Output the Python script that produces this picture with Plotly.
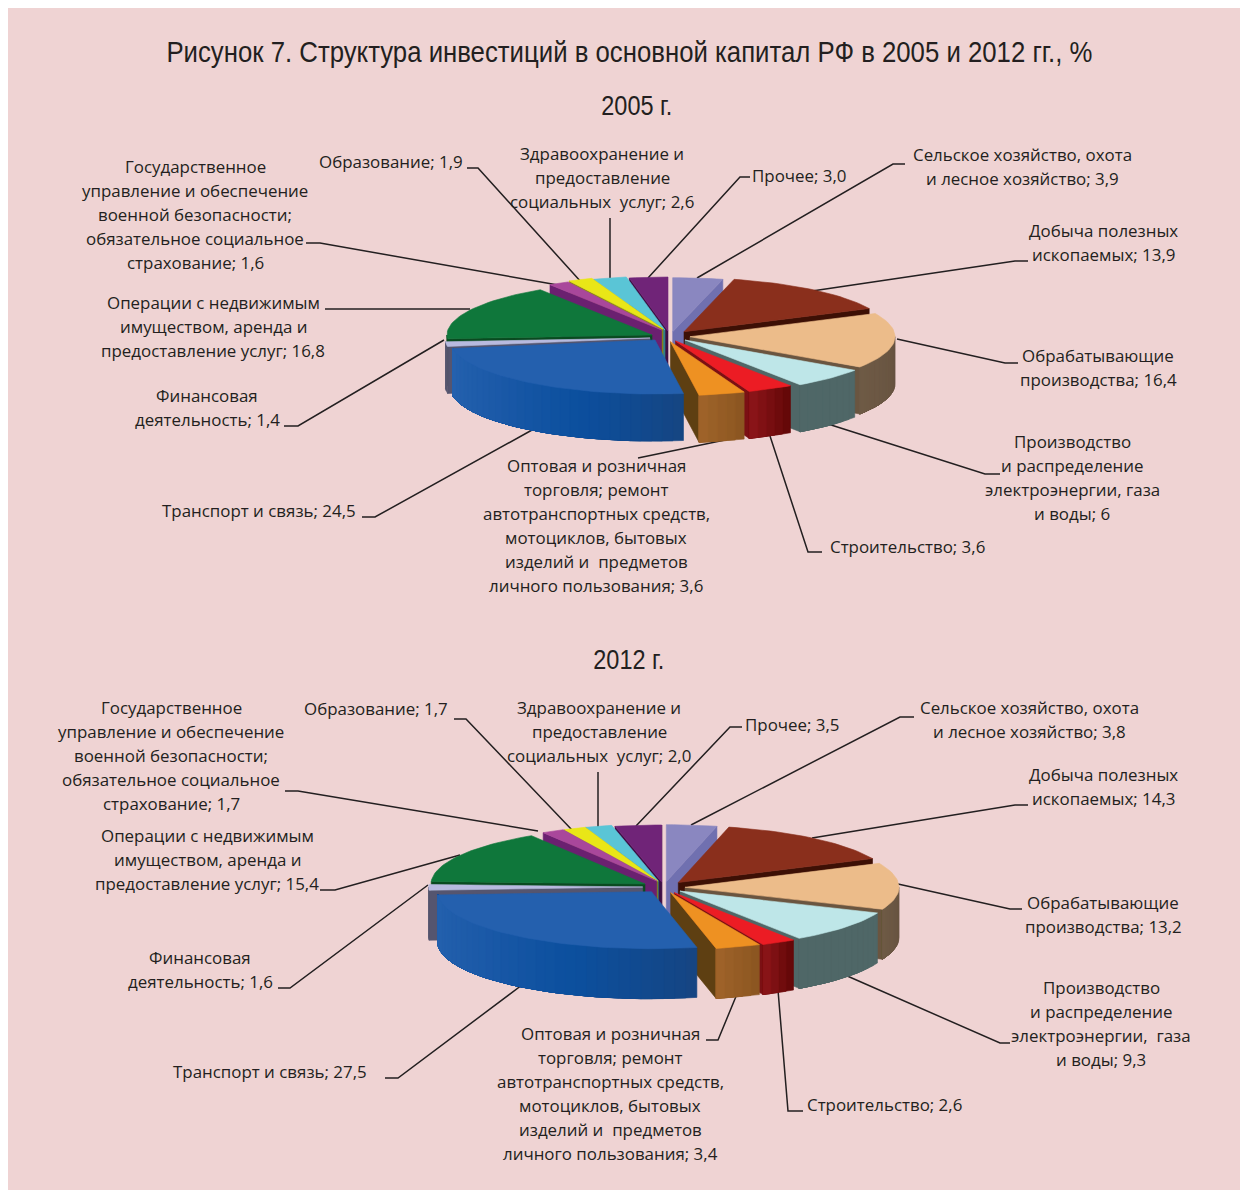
import math
import plotly.graph_objects as go

# ---------- data ----------
categories = ["Сельское хозяйство", "Добыча", "Обрабатывающие", "Производство", "Строительство",
              "Оптовая", "Транспорт", "Финансовая", "Операции", "Госуправление",
              "Образование", "Здравоохранение", "Прочее"]
values_2005 = [3.9, 13.9, 16.4, 6, 3.6, 3.6, 24.5, 1.4, 16.8, 1.6, 1.9, 2.6, 3.0]
values_2012 = [3.8, 14.3, 13.2, 9.3, 2.6, 3.4, 27.5, 1.6, 15.4, 1.7, 1.7, 2.0, 3.5]

title_text = "Рисунок 7. Структура инвестиций в основной капитал РФ в 2005 и 2012 гг., %"

labels_2005 = [
    (1022, 154, ["Сельское хозяйство, охота", "и лесное хозяйство; 3,9"]),
    (1103, 230, ["Добыча полезных", "ископаемых; 13,9"]),
    (1098, 355, ["Обрабатывающие", "производства; 16,4"]),
    (1072, 441, ["Производство", "и распределение", "электроэнергии, газа", "и воды; 6"]),
    (907, 546, ["Строительство; 3,6"]),
    (596, 465, ["Оптовая и розничная", "торговля; ремонт", "автотранспортных средств,", "мотоциклов, бытовых", "изделий и  предметов", "личного пользования; 3,6"]),
    (259, 510, ["Транспорт и связь; 24,5"]),
    (207, 395, ["Финансовая", "деятельность; 1,4"]),
    (213, 302, ["Операции с недвижимым", "имуществом, аренда и", "предоставление услуг; 16,8"]),
    (195, 166, ["Государственное", "управление и обеспечение", "военной безопасности;", "обязательное социальное", "страхование; 1,6"]),
    (391, 161, ["Образование; 1,9"]),
    (602, 153, ["Здравоохранение и", "предоставление", "социальных  услуг; 2,6"]),
    (799, 175, ["Прочее; 3,0"]),
]
labels_2012 = [
    (1029, 707, ["Сельское хозяйство, охота", "и лесное хозяйство; 3,8"]),
    (1103, 774, ["Добыча полезных", "ископаемых; 14,3"]),
    (1103, 902, ["Обрабатывающие", "производства; 13,2"]),
    (1101, 987, ["Производство", "и распределение", "электроэнергии,  газа", "и воды; 9,3"]),
    (884, 1104, ["Строительство; 2,6"]),
    (610, 1033, ["Оптовая и розничная", "торговля; ремонт", "автотранспортных средств,", "мотоциклов, бытовых", "изделий и  предметов", "личного пользования; 3,4"]),
    (270, 1071, ["Транспорт и связь; 27,5"]),
    (200, 957, ["Финансовая", "деятельность; 1,6"]),
    (207, 835, ["Операции с недвижимым", "имуществом, аренда и", "предоставление услуг; 15,4"]),
    (171, 707, ["Государственное", "управление и обеспечение", "военной безопасности;", "обязательное социальное", "страхование; 1,7"]),
    (376, 708, ["Образование; 1,7"]),
    (599, 707, ["Здравоохранение и", "предоставление", "социальных  услуг; 2,0"]),
    (792, 724, ["Прочее; 3,5"]),
]

# ---------- style ----------
PINK = "#EFD3D3"
top_colors = ["#8A87C0", "#8A2F1C", "#ECBC8A", "#BEE6E8", "#EC1C24", "#EE9122", "#2460AE",
              "#B8BADF", "#0F773B", "#A9479B", "#E9E617", "#5AC5D6", "#702478"]
face_colors = ["#7070B0", "#3D1005", "#6A5540", "#4F6767", "#7B1014", "#5E3F12", "#164582",
               "#55556F", "#0A4A20", "#6B2070", "#8C8A10", "#2F7F8C", "#3E0F45"]
# wall colours, left to right on screen
wall_colors = [["#7070B0"] * 2, ["#3D1005"] * 2, ["#6E5A45", "#665240"], ["#4F6767", "#4F6767"],
               ["#8E161A", "#600606"], ["#A0642A", "#8A5520"], ["#2562AE", "#1C5AA8", "#0B4F9E", "#164582"],
               ["#55556F"] * 2, ["#0A4A20"] * 2, ["#6B2070"] * 2, ["#8C8A10"] * 2, ["#2F7F8C"] * 2, ["#3E0F45"] * 2]
draw_order = [12, 11, 10, 9, 0, 1, 8, 7, 2, 3, 4, 5, 6]

geom_2005 = dict(rx=205, ry=54, depth=47,
                 apex=[(672.7, 331.7), (684, 331.7), (690, 336.7), (685, 340), (675.5, 341), (670.5, 341.7),
                       (655, 340), (650, 338), (652, 335), (661.7, 330), (663, 329), (665, 330), (668, 331)])
geom_2012 = dict(rx=214, ry=57, depth=50,
                 apex=[(666.3, 881.7), (678.3, 882.5), (685, 887.3), (680, 891), (674.3, 892.7), (670.7, 892.7),
                       (651.5, 891.7), (642.7, 887), (645, 884), (656.7, 881), (657.7, 881), (658.3, 881), (661.7, 882)])

leaders_2005 = [
    [(697, 278), (893, 164), (905, 164)], [(812, 291), (1015, 261), (1028, 261)],
    [(897, 339), (1005, 363), (1018, 363)], [(828, 424), (985, 474), (1000, 474)],
    [(770, 436), (808, 552), (822, 552)], [(725, 440), (638, 458)],
    [(532, 430), (375, 517), (362, 517)], [(444, 340), (298, 426), (284, 426)],
    [(470, 309), (335, 309), (325, 309)], [(558, 285), (320, 243), (306, 243)],
    [(582, 283), (478, 168), (467, 168)], [(610, 278), (610, 218)], [(648, 278), (740, 177), (750, 177)],
]
leaders_2012 = [
    [(691, 825), (900, 717), (914, 717)], [(812, 838), (1015, 805), (1028, 805)],
    [(898, 884), (1010, 909), (1022, 909)], [(845, 975), (1000, 1043), (1010, 1043)],
    [(778, 990), (788, 1111), (803, 1111)], [(737, 994), (718, 1040), (706, 1040)],
    [(522, 985), (398, 1078), (385, 1078)], [(428, 885), (290, 988), (278, 988)],
    [(460, 855), (335, 890), (320, 890)], [(538, 831), (298, 791), (285, 791)],
    [(572, 830), (466, 719), (454, 719)], [(598, 828), (598, 772)], [(636, 826), (730, 727), (742, 727)],
]

LABEL_FONT = dict(family="Open Sans", size=16.9, color="#231F20")
LINE_STEP = 24

fig = go.Figure()


def poly(xs, ys, color):
    fig.add_trace(go.Scatter(x=xs, y=ys, mode="lines", fill="toself", fillcolor=color,
                             line=dict(color=color, width=0.6), hoverinfo="skip", showlegend=False))


def hex2rgb(h):
    return [int(h[i:i + 2], 16) for i in (1, 3, 5)]


def grad(stops, f):
    f = min(max(f, 0), 1) * (len(stops) - 1)
    i = min(int(f), len(stops) - 2)
    a, b = hex2rgb(stops[i]), hex2rgb(stops[i + 1])
    c = [round(a[k] + (b[k] - a[k]) * (f - i)) for k in range(3)]
    return "rgb(%d,%d,%d)" % tuple(c)


def draw_pie(values, g):
    rx, ry, d = g["rx"], g["ry"], g["depth"]
    total = sum(values)
    edges = [0]
    for v in values:
        edges.append(edges[-1] + v / total * 360)

    for i in draw_order:
        t0, t1 = edges[i], edges[i + 1]
        ax, ay = g["apex"][i]

        def pt(t):
            r = math.radians(t)
            return ax + rx * math.sin(r), ay - ry * math.cos(r)

        # radial cut faces
        for t, vis in ((t1, math.sin(math.radians(t1)) > 0), (t0, math.sin(math.radians(t0)) < 0)):
            if vis:
                px, py = pt(t)
                poly([ax, px, px, ax, ax], [ay, py, py + d, ay + d, ay], face_colors[i])
        # outer wall: painted from the right end, each band covering the rest of the wall
        w0, w1 = max(t0, 90), min(t1, 270)
        if w1 > w0:
            n = max(1, math.ceil((w1 - w0) / 3))
            angs = [w0 + (w1 - w0) * k / n for k in range(n + 1)]
            for k in range(n):
                f = 1 - (angs[k] + (w1 - w0) / (2 * n) - w0) / (w1 - w0)
                upper = [pt(a) for a in angs[k:]]
                xs = [p[0] for p in upper] + [p[0] for p in reversed(upper)] + [upper[0][0]]
                ys = [p[1] for p in upper] + [p[1] + d for p in reversed(upper)] + [upper[0][1]]
                poly(xs, ys, grad(wall_colors[i], f))
        # top face
        n = max(2, math.ceil((t1 - t0) / 2))
        arc = [pt(t0 + (t1 - t0) * k / n) for k in range(n + 1)]
        poly([ax] + [p[0] for p in arc] + [ax], [ay] + [p[1] for p in arc] + [ay], top_colors[i])


def draw_labels(labels):
    for cx, y0, lines in labels:
        for j, line in enumerate(lines):
            fig.add_annotation(x=cx, y=y0 + j * LINE_STEP, text=line, showarrow=False,
                               xanchor="center", yanchor="middle", font=LABEL_FONT)


def draw_leaders(leaders):
    for seg in leaders:
        fig.add_trace(go.Scatter(x=[p[0] for p in seg], y=[p[1] for p in seg], mode="lines",
                                 line=dict(color="#231F20", width=1.5), hoverinfo="skip", showlegend=False))


draw_leaders(leaders_2005)
draw_leaders(leaders_2012)
draw_pie(values_2005, geom_2005)
draw_pie(values_2012, geom_2012)
draw_labels(labels_2005)
draw_labels(labels_2012)

head_font = dict(family="Liberation Sans", size=29, color="#231F20")
fig.add_annotation(x=629, y=52, text=title_text, showarrow=False, font=head_font)
fig.add_annotation(x=637, y=106, text="2005 г.", showarrow=False, font=dict(head_font, size=27))
fig.add_annotation(x=629, y=660, text="2012 г.", showarrow=False, font=dict(head_font, size=27))

fig.update_layout(
    width=1248, height=1191, margin=dict(l=0, r=0, t=0, b=0),
    paper_bgcolor="white", plot_bgcolor="white", showlegend=False,
    xaxis=dict(range=[0, 1248], visible=False, fixedrange=True),
    yaxis=dict(range=[1191, 0], visible=False, fixedrange=True),
    shapes=[dict(type="rect", x0=8, x1=1240, y0=8, y1=1190, fillcolor=PINK, line=dict(width=0), layer="below")],
)

# the reference headings use a narrow face: condense the real text to the same width
post = """
document.body.style.margin='0';document.body.style.overflow='hidden';
document.querySelectorAll('.annotation-text').forEach(function(t){
  var s=t.textContent, w=0;
  if(s.indexOf('Рисунок 7')===0){w=926;} else if(s==='2005 г.'||s==='2012 г.'){w=71;}
  if(w){t.setAttribute('textLength',w);t.setAttribute('lengthAdjust','spacingAndGlyphs');}
});
"""
fig.write_html("out.html", config={"displayModeBar": False}, post_script=post)
